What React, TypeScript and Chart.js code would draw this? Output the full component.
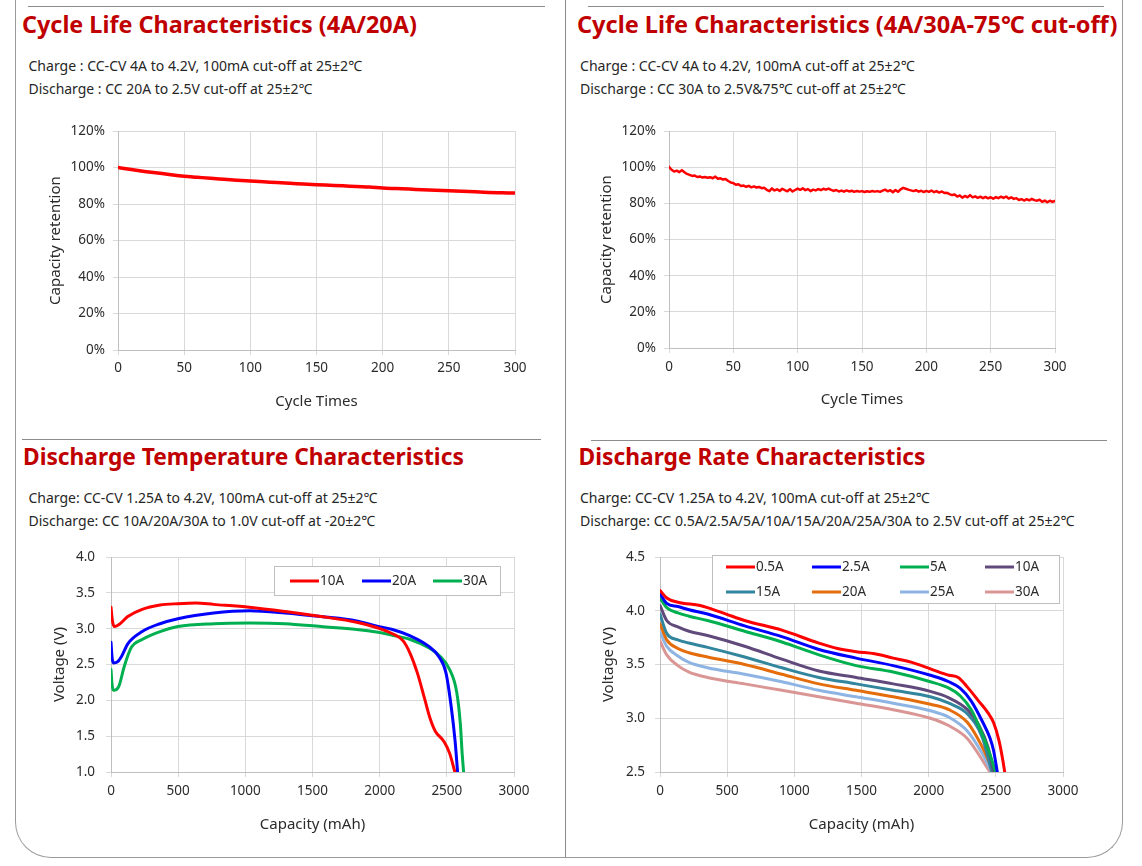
import React, { useEffect, useRef } from 'react';
import { Chart, registerables } from 'chart.js';

Chart.register(...registerables);

if (typeof document !== 'undefined') document.body.style.margin = '0';

const FAMILY = "'Noto Sans', 'Noto Sans CJK SC', sans-serif";
Chart.defaults.font.family = FAMILY;

const GRID = '#D9D9D9';
const AXIS = '#BFBFBF';
const TICK = '#2B2B2B';
const TICK_SIZE = 13.5;
const TITLE_SIZE = 15;

// ---------- Panel 1: Cycle life 4A/20A ----------
const cycles20A = [0, 10, 20, 30, 40, 50, 60, 70, 80, 90, 100, 110, 120, 130, 140, 150, 160, 170, 180, 190, 200, 210, 220, 230, 240, 250, 260, 270, 280, 290, 300];
const retention20A = [100, 98.9, 97.9, 97.0, 96.1, 95.3, 94.7, 94.1, 93.6, 93.1, 92.6, 92.2, 91.8, 91.4, 91.0, 90.6, 90.3, 90.0, 89.6, 89.3, 88.8, 88.5, 88.2, 87.9, 87.6, 87.3, 87.0, 86.7, 86.4, 86.2, 86.0];

// ---------- Panel 2: Cycle life 4A/30A-75C (every 2nd cycle) ----------
const cycleStep30A = 2;
const retention30A = [
  100.2, 98.6, 97.6, 98.1, 97.3, 98.4, 97.2, 96.3, 95.8, 95.2,
  95.4, 94.6, 94.9, 94.3, 94.6, 94.2, 94.5, 93.9, 94.8, 93.6,
  93.9, 93.2, 93.5, 92.4, 91.6, 91.2, 90.3, 90.6, 89.6, 89.9,
  89.2, 89.7, 88.9, 89.4, 88.8, 89.1, 88.4, 88.7, 87.5, 86.8,
  88.3, 87.2, 87.8, 86.9, 88.1, 87.3, 86.7, 87.9, 86.6, 87.4,
  88.2, 87.5, 88.4, 87.3, 87.9, 86.8, 87.6, 87.2, 87.9, 87.4,
  88.1, 87.6, 88.2, 87.5, 86.9, 87.4, 86.6, 87.1, 86.5, 87.2,
  86.6, 87.0, 86.4, 86.9, 86.5, 86.8, 86.3, 86.7, 86.4, 86.9,
  86.5, 86.8, 86.4, 87.1, 87.6, 86.7, 87.3, 86.2, 87.4, 86.4,
  87.8, 88.6, 88.1, 87.6, 87.2, 86.8, 87.3, 86.5, 87.0, 86.3,
  86.9, 86.4, 87.1, 86.2, 86.8, 86.0, 86.6, 85.8, 85.9, 85.1,
  84.6, 84.9, 83.8, 84.4, 83.2, 84.1, 83.4, 84.6, 83.3, 83.9,
  83.1, 83.7, 82.9, 83.6, 82.8, 83.4, 82.6, 83.5, 82.9, 83.7,
  83.0, 83.8, 82.7, 83.4, 82.5, 82.9, 81.9, 82.4, 81.6, 82.3,
  81.7, 82.5, 81.8, 81.5, 82.0, 80.9, 81.6, 80.6, 81.5, 80.8,
  81.4,
];

// ---------- Panel 3: Discharge temperature (-20C) ----------
const temp10AX = [0, 10, 24, 60, 125, 232, 365, 498, 631, 764, 1030, 1296, 1563, 1829, 1988, 2095, 2175, 2228, 2281, 2335, 2375, 2414, 2481, 2521, 2560];
const temp10AY = [3.30, 3.12, 3.03, 3.06, 3.17, 3.27, 3.33, 3.35, 3.36, 3.34, 3.30, 3.24, 3.17, 3.09, 3.01, 2.93, 2.83, 2.65, 2.38, 2.02, 1.75, 1.57, 1.42, 1.26, 1.0];
const temp20AX = [0, 8, 19, 50, 80, 125, 232, 365, 498, 764, 1030, 1296, 1563, 1829, 1988, 2095, 2228, 2361, 2441, 2494, 2534, 2561, 2580];
const temp20AY = [2.81, 2.60, 2.52, 2.54, 2.62, 2.79, 2.96, 3.07, 3.14, 3.22, 3.25, 3.22, 3.17, 3.11, 3.03, 2.99, 2.90, 2.76, 2.61, 2.38, 1.89, 1.44, 1.0];
const temp30AX = [0, 8, 19, 59, 98, 152, 232, 365, 498, 764, 1030, 1296, 1563, 1829, 1988, 2095, 2228, 2361, 2441, 2521, 2574, 2601, 2614, 2625];
const temp30AY = [2.43, 2.22, 2.14, 2.20, 2.47, 2.74, 2.85, 2.96, 3.03, 3.07, 3.08, 3.07, 3.03, 2.99, 2.95, 2.91, 2.85, 2.74, 2.63, 2.43, 2.11, 1.66, 1.26, 1.0];

// ---------- Panel 4: Discharge rate ----------
const rate05X = [0, 50, 133, 299, 354, 492, 630, 907, 1183, 1322, 1460, 1598, 1736, 1875, 2013, 2151, 2220, 2289, 2372, 2442, 2483, 2524, 2552, 2566];
const rate05Y = [4.19, 4.12, 4.08, 4.05, 4.03, 3.97, 3.91, 3.82, 3.70, 3.65, 3.62, 3.60, 3.56, 3.52, 3.46, 3.40, 3.38, 3.29, 3.16, 3.05, 2.96, 2.79, 2.61, 2.5];
const rate25X = [0, 50, 133, 216, 354, 630, 907, 1183, 1460, 1736, 2013, 2151, 2234, 2317, 2400, 2455, 2483, 2511];
const rate25Y = [4.16, 4.07, 4.04, 4.01, 3.97, 3.86, 3.76, 3.64, 3.56, 3.49, 3.40, 3.34, 3.28, 3.16, 2.97, 2.82, 2.70, 2.5];
const rate5X = [0, 50, 133, 216, 354, 630, 907, 1183, 1460, 1736, 2013, 2151, 2234, 2317, 2400, 2455, 2497];
const rate5Y = [4.12, 4.03, 3.98, 3.95, 3.91, 3.81, 3.71, 3.59, 3.49, 3.43, 3.34, 3.28, 3.21, 3.08, 2.85, 2.67, 2.5];
const rate10X = [0, 50, 133, 216, 354, 630, 907, 1183, 1460, 1736, 2013, 2151, 2289, 2372, 2442, 2483];
const rate10Y = [4.05, 3.91, 3.85, 3.81, 3.77, 3.67, 3.55, 3.44, 3.38, 3.32, 3.25, 3.19, 3.08, 2.94, 2.73, 2.5];
const rate15X = [0, 50, 133, 216, 354, 630, 907, 1183, 1460, 1736, 2013, 2151, 2289, 2400, 2470];
const rate15Y = [3.97, 3.79, 3.73, 3.70, 3.66, 3.57, 3.47, 3.38, 3.32, 3.26, 3.20, 3.14, 3.04, 2.82, 2.5];
const rate20X = [0, 50, 133, 216, 354, 630, 907, 1183, 1460, 1736, 2013, 2151, 2289, 2400, 2483];
const rate20Y = [3.88, 3.73, 3.65, 3.61, 3.57, 3.50, 3.41, 3.32, 3.26, 3.20, 3.13, 3.08, 2.96, 2.73, 2.5];
const rate25AX = [0, 50, 133, 216, 354, 630, 907, 1183, 1460, 1736, 2013, 2151, 2289, 2400, 2470];
const rate25AY = [3.80, 3.67, 3.58, 3.52, 3.47, 3.41, 3.34, 3.26, 3.20, 3.14, 3.07, 3.01, 2.88, 2.67, 2.5];
const rate30X = [0, 50, 133, 216, 354, 630, 907, 1183, 1460, 1736, 2013, 2151, 2289, 2400, 2455];
const rate30Y = [3.72, 3.59, 3.49, 3.43, 3.38, 3.32, 3.26, 3.20, 3.14, 3.08, 3.00, 2.93, 2.81, 2.61, 2.5];

const tempLabels = ['10A', '20A', '30A'];
const rateLabels = ['0.5A', '2.5A', '5A', '10A', '15A', '20A', '25A', '30A'];

const xTicks300 = { min: 0, max: 300, step: 50 };
const xTicks3000 = { min: 0, max: 3000, step: 500 };

const pts = (xs: number[], ys: number[]) => xs.map((x, i) => ({ x, y: ys[i] }));

// ---------- helpers ----------
const boxLegend = {
  id: 'boxLegend',
  afterDatasetsDraw(chart: any, _args: any, opts: any) {
    if (!opts || !opts.box) return;
    const ctx = chart.ctx;
    const [bx, by, bw, bh] = opts.box;
    ctx.save();
    ctx.fillStyle = '#ffffff';
    ctx.fillRect(bx, by, bw, bh);
    ctx.strokeStyle = '#BFBFBF';
    ctx.lineWidth = 1;
    ctx.strokeRect(bx + 0.5, by + 0.5, bw, bh);
    ctx.font = `13.5px ${FAMILY}`;
    ctx.textBaseline = 'middle';
    ctx.textAlign = 'left';
    chart.data.datasets.forEach((ds: any, i: number) => {
      const x = opts.cols[i % opts.cols.length];
      const y = opts.rows[Math.floor(i / opts.cols.length)];
      ctx.strokeStyle = ds.borderColor;
      ctx.lineWidth = 3;
      ctx.beginPath();
      ctx.moveTo(x, y);
      ctx.lineTo(x + opts.lineLen, y);
      ctx.stroke();
      ctx.fillStyle = TICK;
      ctx.fillText(ds.label, x + opts.lineLen + 1, y + 0.5);
    });
    ctx.restore();
  },
};

function xAxis(t: { min: number; max: number; step: number }, title: string, height: number, pad: number) {
  return {
    type: 'linear',
    position: 'bottom',
    min: t.min,
    max: t.max,
    afterFit: (s: any) => { s.height = height; },
    ticks: { stepSize: t.step, padding: pad, color: TICK, font: { size: TICK_SIZE }, maxRotation: 0, autoSkip: false, callback: (v: any) => String(v) },
    grid: { color: GRID, tickLength: 5, tickColor: GRID },
    border: { color: AXIS },
    title: { display: true, text: title, color: TICK, font: { size: TITLE_SIZE }, padding: 0 },
  };
}

function yAxis(min: number, max: number, step: number, fmt: (v: number) => string, title: string, width: number, pad: number) {
  return {
    type: 'linear',
    min,
    max,
    afterFit: (s: any) => { s.width = width; },
    ticks: { stepSize: step, padding: pad, color: TICK, font: { size: TICK_SIZE }, callback: (v: any) => fmt(Number(v)) },
    grid: { color: GRID, tickLength: 5, tickColor: GRID },
    border: { color: AXIS },
    title: { display: true, text: title, color: TICK, font: { size: TITLE_SIZE }, padding: 0 },
  };
}

function lineDs(label: string, data: any[], color: string, width: number, tension: boolean) {
  return {
    label,
    data,
    borderColor: color,
    backgroundColor: color,
    borderWidth: width,
    pointRadius: 0,
    fill: false,
    cubicInterpolationMode: tension ? 'monotone' : 'default',
    tension: 0,
    borderJoinStyle: 'round',
    borderCapStyle: 'round',
  };
}

function ChartBox(props: { left: number; top: number; width: number; height: number; make: () => any }) {
  const ref = useRef<HTMLCanvasElement | null>(null);
  useEffect(() => {
    if (!ref.current) return;
    const chart = new Chart(ref.current, props.make());
    return () => chart.destroy();
  }, []);
  return (
    <canvas
      ref={ref}
      width={props.width}
      height={props.height}
      style={{ position: 'absolute', left: props.left, top: props.top, width: props.width, height: props.height }}
    />
  );
}

const measureCtx = typeof document !== 'undefined' ? document.createElement('canvas').getContext('2d') : null;
function fitSize(text: string, weight: string, width: number) {
  if (!measureCtx) return 14;
  measureCtx.font = `${weight} 100px ${FAMILY}`;
  const w = measureCtx.measureText(text).width;
  return (100 * width) / w;
}

function Txt(props: { text: string; x: number; cy: number; w: number; bold?: boolean; color: string }) {
  const weight = props.bold ? 'bold' : 'normal';
  const fs = fitSize(props.text, weight, props.w);
  return (
    <div
      style={{
        position: 'absolute',
        left: props.x,
        top: props.cy - fs * 0.63,
        fontSize: fs,
        lineHeight: 1.2,
        fontWeight: props.bold ? 700 : 400,
        fontFamily: FAMILY,
        color: props.color,
        whiteSpace: 'nowrap',
      }}
    >
      {props.text}
    </div>
  );
}

const baseOpts = (padRight: number, scales: any, plugins: any = {}) => ({
  responsive: false,
  maintainAspectRatio: false,
  animation: false,
  events: [],
  layout: { padding: { left: 0, top: 12, right: padRight, bottom: 0 } },
  plugins: { legend: { display: false }, tooltip: { enabled: false }, ...plugins },
  scales,
});

const makeC1 = () => ({
  type: 'line',
  data: { datasets: [lineDs('4A/20A', pts(cycles20A, retention20A), '#FF0000', 3.5, true)] },
  options: baseOpts(25, {
    x: xAxis(xTicks300, 'Cycle Times', 61, 5),
    y: yAxis(0, 120, 20, (v) => `${v}%`, 'Capacity retention', 71, 8),
  }),
});

const makeC2 = () => ({
  type: 'line',
  data: { datasets: [lineDs('4A/30A', retention30A.map((y, i) => ({ x: i * cycleStep30A, y })), '#FF0000', 2.5, false)] },
  options: baseOpts(25, {
    x: xAxis(xTicks300, 'Cycle Times', 61, 6),
    y: yAxis(0, 120, 20, (v) => `${v}%`, 'Capacity retention', 71, 8),
  }),
});

const makeC3 = () => ({
  type: 'line',
  data: {
    datasets: [
      lineDs(tempLabels[0], pts(temp10AX, temp10AY), '#FF0000', 3, true),
      lineDs(tempLabels[1], pts(temp20AX, temp20AY), '#0000FF', 3, true),
      lineDs(tempLabels[2], pts(temp30AX, temp30AY), '#00B050', 3, true),
    ],
  },
  options: baseOpts(
    26,
    {
      x: xAxis(xTicks3000, 'Capacity (mAh)', 62, 6),
      y: yAxis(1, 4, 0.5, (v) => v.toFixed(1), 'Voltage (V)', 60, 11),
    },
    { boxLegend: { box: [223, 28, 226, 29], rows: [43], cols: [239, 311, 382], lineLen: 29 } }
  ),
  plugins: [boxLegend],
});

const makeC4 = () => ({
  type: 'line',
  data: {
    datasets: [
      lineDs(rateLabels[0], pts(rate05X, rate05Y), '#FF0000', 3, true),
      lineDs(rateLabels[1], pts(rate25X, rate25Y), '#0000FF', 3, true),
      lineDs(rateLabels[2], pts(rate5X, rate5Y), '#00B050', 3, true),
      lineDs(rateLabels[3], pts(rate10X, rate10Y), '#604A7B', 3, true),
      lineDs(rateLabels[4], pts(rate15X, rate15Y), '#31859C', 3, true),
      lineDs(rateLabels[5], pts(rate20X, rate20Y), '#E46C0A', 3, true),
      lineDs(rateLabels[6], pts(rate25AX, rate25AY), '#8EB4E3', 3, true),
      lineDs(rateLabels[7], pts(rate30X, rate30Y), '#D99694', 3, true),
    ],
  },
  options: baseOpts(
    27,
    {
      x: xAxis(xTicks3000, 'Capacity (mAh)', 62, 6),
      y: yAxis(2.5, 4.5, 0.5, (v) => v.toFixed(1), 'Voltage (V)', 60, 10),
    },
    { boxLegend: { box: [112, 16, 347, 48], rows: [28, 53], cols: [126, 212, 300, 385], lineLen: 29 } }
  ),
  plugins: [boxLegend],
});

const LINE = '#8C8C8C';
const TITLE = '#C00000';
const SUB = '#262626';

export default function App() {
  return (
    <div style={{ position: 'relative', width: 1142, height: 866, background: '#ffffff', overflow: 'hidden' }}>
      {/* frame */}
      <div
        style={{
          position: 'absolute',
          left: 15,
          top: -40,
          width: 1108,
          height: 898,
          boxSizing: 'border-box',
          border: '1px solid #9A9A9A',
          borderTop: 'none',
          borderRadius: '0 0 36px 36px',
        }}
      />
      <div style={{ position: 'absolute', left: 565, top: 0, width: 1, height: 857, background: LINE }} />
      <div style={{ position: 'absolute', left: 28, top: 6, width: 517, height: 1, background: LINE }} />
      <div style={{ position: 'absolute', left: 588, top: 6, width: 516, height: 1, background: LINE }} />
      <div style={{ position: 'absolute', left: 22, top: 439, width: 519, height: 1, background: LINE }} />
      <div style={{ position: 'absolute', left: 591, top: 440, width: 516, height: 1, background: LINE }} />

      {/* panel 1 */}
      <Txt text="Cycle Life Characteristics (4A/20A)" x={22} cy={25} w={395} bold color={TITLE} />
      <Txt text="Charge : CC-CV 4A to 4.2V, 100mA cut-off at 25±2℃" x={28.5} cy={66.7} w={334} color={SUB} />
      <Txt text="Discharge : CC 20A to 2.5V cut-off at 25±2℃" x={28.5} cy={90} w={284} color={SUB} />

      {/* panel 2 */}
      <Txt text="Cycle Life Characteristics (4A/30A-75℃ cut-off)" x={577} cy={25} w={541} bold color={TITLE} />
      <Txt text="Charge : CC-CV 4A to 4.2V, 100mA cut-off at 25±2℃" x={580} cy={66.7} w={335} color={SUB} />
      <Txt text="Discharge : CC 30A to 2.5V&75℃ cut-off at 25±2℃" x={580} cy={90} w={326} color={SUB} />

      {/* panel 3 */}
      <Txt text="Discharge Temperature Characteristics" x={23} cy={457} w={441} bold color={TITLE} />
      <Txt text="Charge: CC-CV 1.25A to 4.2V, 100mA cut-off at 25±2℃" x={28.5} cy={498.7} w={349} color={SUB} />
      <Txt text="Discharge: CC 10A/20A/30A to 1.0V cut-off at -20±2℃" x={28.5} cy={522} w={347} color={SUB} />

      {/* panel 4 */}
      <Txt text="Discharge Rate Characteristics" x={578.6} cy={457} w={347} bold color={TITLE} />
      <Txt text="Charge: CC-CV 1.25A to 4.2V, 100mA cut-off at 25±2℃" x={580} cy={498.7} w={350} color={SUB} />
      <Txt text="Discharge: CC 0.5A/2.5A/5A/10A/15A/20A/25A/30A to 2.5V cut-off at 25±2℃" x={580} cy={522} w={495} color={SUB} />

      <ChartBox left={47} top={115} width={493} height={296} make={makeC1} />
      <ChartBox left={598} top={115} width={482} height={294} make={makeC2} />
      <ChartBox left={51} top={538} width={489} height={296} make={makeC3} />
      <ChartBox left={600} top={539} width={490} height={295} make={makeC4} />
    </div>
  );
}
